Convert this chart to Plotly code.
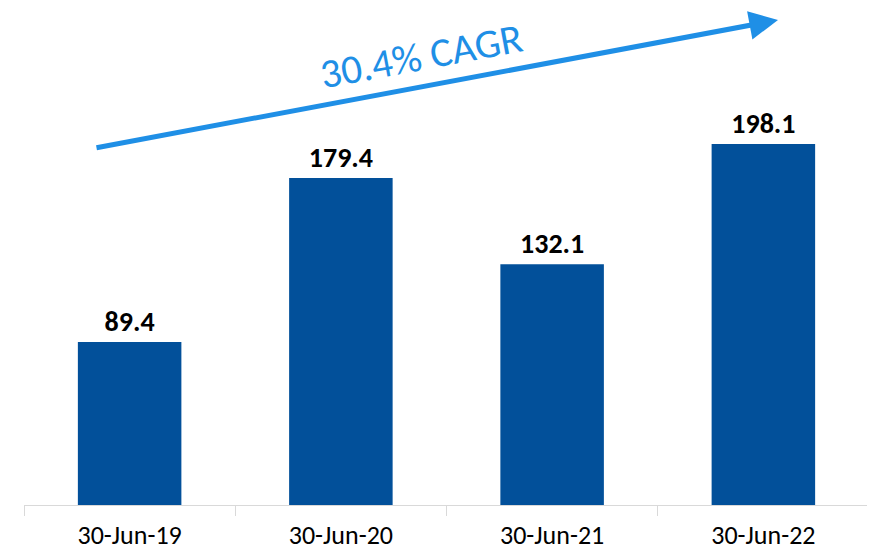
import plotly.graph_objects as go

categories = ["30-Jun-19", "30-Jun-20", "30-Jun-21", "30-Jun-22"]
values = [89.4, 179.4, 132.1, 198.1]
value_labels = ["89.4", "179.4", "132.1", "198.1"]
cagr_text = "30.4% CAGR"

BAR = "#02509A"
BLUE = "#1F8FE6"
FONT = "Carlito, Lato, 'Open Sans', sans-serif"

# page body has an 8px margin; figure sized to fill the rest of the window
OFF = 8
W, H = 875 - OFF, 553 - OFF
ml, mr, mt, mb = 16, 6, 5, 48
pw, ph = W - ml - mr, H - mt - mb

def px(xpage):
    return (xpage - OFF - ml) / pw

def py(ypage):
    return (H - mb - (ypage - OFF)) / ph

fig = go.Figure()
fig.add_trace(go.Bar(
    x=categories, y=values,
    text=value_labels, textposition="outside",
    textfont=dict(family=FONT, size=28, color="#000000", weight="bold"),
    marker=dict(color=BAR, line=dict(width=0)),
    cliponaxis=False,
))

# arrow
fig.add_annotation(
    x=px(778), y=py(20), xref="paper", yref="paper",
    ax=95 - 778, ay=148 - 20, axref="pixel", ayref="pixel",
    showarrow=True, arrowhead=2, arrowsize=1.15, arrowwidth=5,
    arrowcolor=BLUE, text="", standoff=0,
)
fig.add_annotation(
    x=px(421), y=py(56), xref="paper", yref="paper",
    text=cagr_text, showarrow=False, textangle=-10.6,
    font=dict(family=FONT, size=41, color=BLUE),
    xanchor="center", yanchor="middle",
)

fig.update_layout(
    width=W, height=H,
    margin=dict(l=ml, r=mr, t=mt, b=mb, autoexpand=False),
    plot_bgcolor="white", paper_bgcolor="white",
    bargap=0.51, showlegend=False,
    xaxis=dict(
        showline=True, linecolor="#d9d9d9", linewidth=1,
        ticks="outside", tickson="boundaries", ticklen=10, tickcolor="#d9d9d9",
        tickfont=dict(family=FONT, size=26, color="#000000"),
        ticklabelstandoff=7, automargin=False,
        showgrid=False,
    ),
    yaxis=dict(range=[0, 270], visible=False, showgrid=False, zeroline=False,
               automargin=False),
)

fig.write_html("out.html")
